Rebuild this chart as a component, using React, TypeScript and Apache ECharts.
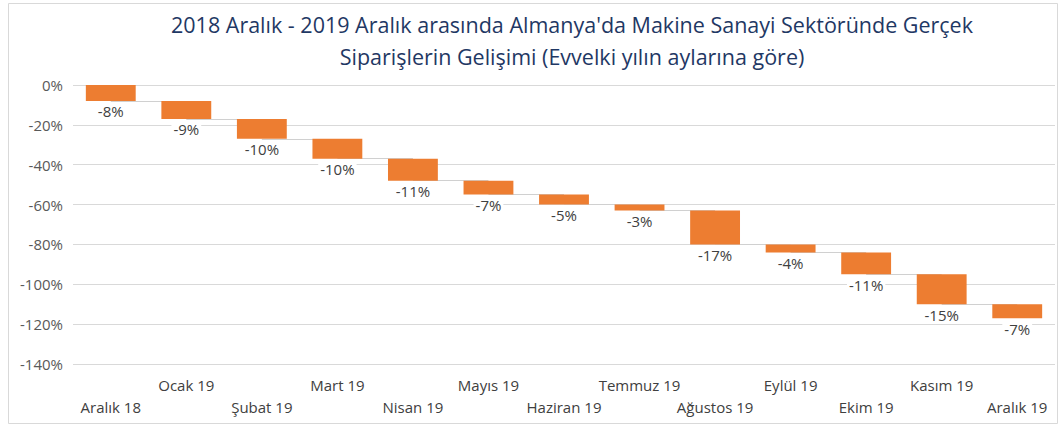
import React, { useEffect, useRef } from "react";
import * as echarts from "echarts";

const categories = [
  "Aralık 18", "Ocak 19", "Şubat 19", "Mart 19", "Nisan 19", "Mayıs 19", "Haziran 19",
  "Temmuz 19", "Ağustos 19", "Eylül 19", "Ekim 19", "Kasım 19", "Aralık 19",
];
const changes = [-8, -9, -10, -10, -11, -7, -5, -3, -17, -4, -11, -15, -7];
const titleLines = [
  "2018 Aralık - 2019 Aralık arasında Almanya'da Makine Sanayi Sektöründe Gerçek",
  "Siparişlerin Gelişimi (Evvelki yılın aylarına göre)",
];

const FONT = "'Open Sans', 'Noto Sans', sans-serif";

export default function App() {
  const ref = useRef<HTMLDivElement>(null);
  useEffect(() => {
    document.body.style.margin = "0";
    if (!ref.current) return;
    const chart = echarts.init(ref.current, undefined, { renderer: "svg" });

    const starts: number[] = [];
    const ends: number[] = [];
    let acc = 0;
    changes.forEach((c) => {
      starts.push(acc);
      acc += c;
      ends.push(acc);
    });
    const connectors = ends.slice(0, -1).map((e, i) => [
      { coord: [i, e] },
      { coord: [i + 1, e] },
    ]);

    chart.setOption({
      animation: false,
      backgroundColor: "#ffffff",
      title: {
        text: titleLines.join("\n"),
        left: 567,
        top: 3,
        textAlign: "center",
        textStyle: {
          fontFamily: FONT,
          fontSize: 21.5,
          fontWeight: "normal",
          color: "#1f3864",
          lineHeight: 32,
        },
      },
      graphic: [
        {
          type: "rect",
          shape: { x: 8.5, y: 3.5, width: 1049, height: 420 },
          style: { fill: "none", stroke: "#d9d9d9", lineWidth: 1 },
          silent: true,
          z: -1,
        },
      ],
      grid: { left: 73, right: 7, top: 85, bottom: 62 },
      xAxis: {
        type: "category",
        data: categories,
        axisLine: { show: false, onZero: false },
        axisTick: { show: false },
        axisLabel: {
          interval: 0,
          margin: 10,
          fontFamily: FONT,
          fontSize: 15,
          color: "#404040",
          lineHeight: 22,
          formatter: (v: string, i: number) => (i % 2 === 0 ? "\n" + v : v),
        },
      },
      yAxis: {
        type: "value",
        min: -140,
        max: 0,
        interval: 20,
        axisLine: { show: false },
        axisTick: { show: false },
        axisLabel: {
          margin: 10,
          fontFamily: FONT,
          fontSize: 15,
          color: "#595959",
          formatter: (v: number) => `${v}%`,
        },
        splitLine: { lineStyle: { color: "#d9d9d9", width: 1 } },
      },
      series: [
        {
          type: "bar",
          stack: "w",
          data: starts,
          itemStyle: { color: "transparent" },
          barWidth: "66%",
          z: 1,
          silent: true,
          markLine: {
            silent: true,
            z: 1,
            symbol: "none",
            label: { show: false },
            lineStyle: { color: "#d0d0d0", width: 1, type: "solid" },
            data: connectors,
          },
        },
        {
          type: "bar",
          stack: "w",
          data: changes,
          barWidth: "66%",
          z: 3,
          itemStyle: { color: "#ed7d31" },
          label: {
            show: true,
            position: "bottom",
            distance: 3,
            fontFamily: FONT,
            fontSize: 15,
            color: "#404040",
            backgroundColor: "#ffffff",
            padding: [0, 2],
            formatter: (p: any) => `${p.value}%`,
          },
        },
      ],
    });
    return () => chart.dispose();
  }, []);
  return <div ref={ref} style={{ width: 1062, height: 426 }} />;
}
